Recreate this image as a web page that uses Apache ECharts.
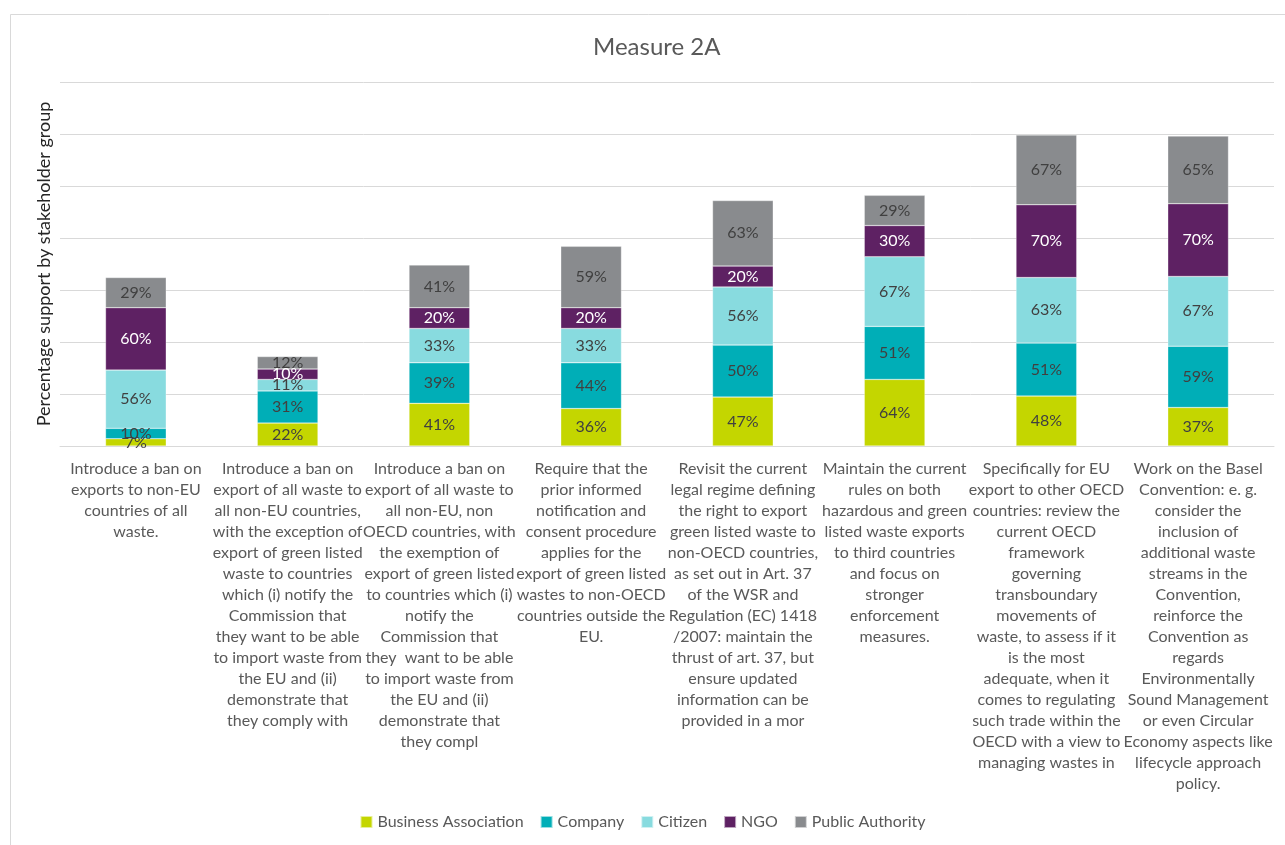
<!DOCTYPE html>
<html>
<head>
<meta charset="utf-8">
<script src="https://cdn.jsdelivr.net/npm/echarts@6/dist/echarts.min.js"></script>
<style>
  html, body { margin: 0; padding: 0; background: #fff; }
  #chart { width: 1285px; height: 845px; }
</style>
</head>
<body>
<div id="chart"></div>
<script>
// measures (x categories), line breaks as in the original
const measures = [
  "Introduce a ban on\nexports to non-EU\ncountries of all\nwaste.",
  "Introduce a ban on\nexport of all waste to\nall non-EU countries,\nwith the exception of\nexport of green listed\nwaste to countries\nwhich (i) notify the\nCommission that\nthey want to be able\nto import waste from\nthe EU and (ii)\ndemonstrate that\nthey comply with",
  "Introduce a ban on\nexport of all waste to\nall non-EU, non\nOECD countries, with\nthe exemption of\nexport of green listed\nto countries which (i)\nnotify the\nCommission that\nthey  want to be able\nto import waste from\nthe EU and (ii)\ndemonstrate that\nthey compl",
  "Require that the\nprior informed\nnotification and\nconsent procedure\napplies for the\nexport of green listed\nwastes to non-OECD\ncountries outside the\nEU.",
  "Revisit the current\nlegal regime defining\nthe right to export\ngreen listed waste to\nnon-OECD countries,\nas set out in Art. 37\nof the WSR and\nRegulation (EC) 1418\n/2007: maintain the\nthrust of art. 37, but\nensure updated\ninformation can be\nprovided in a mor",
  "Maintain the current\nrules on both\nhazardous and green\nlisted waste exports\nto third countries\nand focus on\nstronger\nenforcement\nmeasures.",
  "Specifically for EU\nexport to other OECD\ncountries: review the\ncurrent OECD\nframework\ngoverning\ntransboundary\nmovements of\nwaste, to assess if it\nis the most\nadequate, when it\ncomes to regulating\nsuch trade within the\nOECD with a view to\nmanaging wastes in",
  "Work on the Basel\nConvention: e. g.\nconsider the\ninclusion of\nadditional waste\nstreams in the\nConvention,\nreinforce the\nConvention as\nregards\nEnvironmentally\nSound Management\nor even Circular\nEconomy aspects like\nlifecycle approach\npolicy."
];

// % support per stakeholder group
const businessAssoc  = [7, 22, 41, 36, 47, 64, 48, 37];
const company        = [10, 31, 39, 44, 50, 51, 51, 59];
const citizen        = [56, 11, 33, 33, 56, 67, 63, 67];
const ngo            = [60, 10, 20, 20, 20, 30, 70, 70];
const publicAuth     = [29, 12, 41, 59, 63, 29, 67, 65];

const groups = [
  { name: "Business Association", data: businessAssoc, color: "#C4D600", text: "#404040" },
  { name: "Company", data: company, color: "#00AEB7", text: "#404040" },
  { name: "Citizen", data: citizen, color: "#88DBDF", text: "#404040" },
  { name: "NGO", data: ngo, color: "#5E2163", text: "#ffffff" },
  { name: "Public Authority", data: publicAuth, color: "#898B8E", text: "#404040" }
];

const font = "Lato, 'Open Sans', sans-serif";
const chart = echarts.init(document.getElementById("chart"));

let option = {
  backgroundColor: "#fff",
  textStyle: { fontFamily: font },
  graphic: [{
    type: "rect",
    left: 8, top: 12,
    shape: { width: 1300, height: 860 },
    style: { fill: "none", stroke: "#d9d9d9", lineWidth: 1 },
    silent: true
  }],
  title: {
    text: "Measure 2A",
    left: 588,
    top: 30,
    textStyle: { fontFamily: font, fontSize: 24, fontWeight: "normal", color: "#595959" }
  },
  legend: {
    bottom: 10,
    left: "center",
    itemWidth: 12,
    itemHeight: 12,
    itemGap: 16,
    icon: "rect",
    textStyle: { fontFamily: font, fontSize: 16, color: "#595959" },
    data: groups.map(g => g.name)
  },
  grid: { left: 60, right: 11, top: 82, bottom: 399 },
  xAxis: {
    type: "category",
    data: measures,
    axisLine: { lineStyle: { color: "#d9d9d9" } },
    axisTick: { show: false },
    axisLabel: {
      interval: 0,
      margin: 12,
      fontFamily: font,
      fontSize: 16,
      lineHeight: 21,
      color: "#595959",
      align: "center"
    }
  },
  yAxis: {
    type: "value",
    min: 0,
    max: 350,
    interval: 50,
    name: "Percentage support by stakeholder group",
    nameLocation: "middle",
    nameGap: 7,
    nameTextStyle: { fontFamily: font, fontSize: 18, color: "#262626" },
    axisLabel: { show: false },
    axisLine: { show: false },
    axisTick: { show: false },
    splitLine: { lineStyle: { color: "#d9d9d9", width: 1 } }
  },
  series: groups.map(g => ({
    name: g.name,
    type: "bar",
    stack: "total",
    barWidth: "40%",
    data: g.data,
    itemStyle: { color: g.color, borderColor: "rgba(255,255,255,0.6)", borderWidth: 0.5 },
    label: {
      show: true,
      position: "inside",
      formatter: "{c}%",
      fontFamily: font,
      fontSize: 16,
      color: g.text
    }
  }))
};

option && chart.setOption(option);
</script>
</body>
</html>
